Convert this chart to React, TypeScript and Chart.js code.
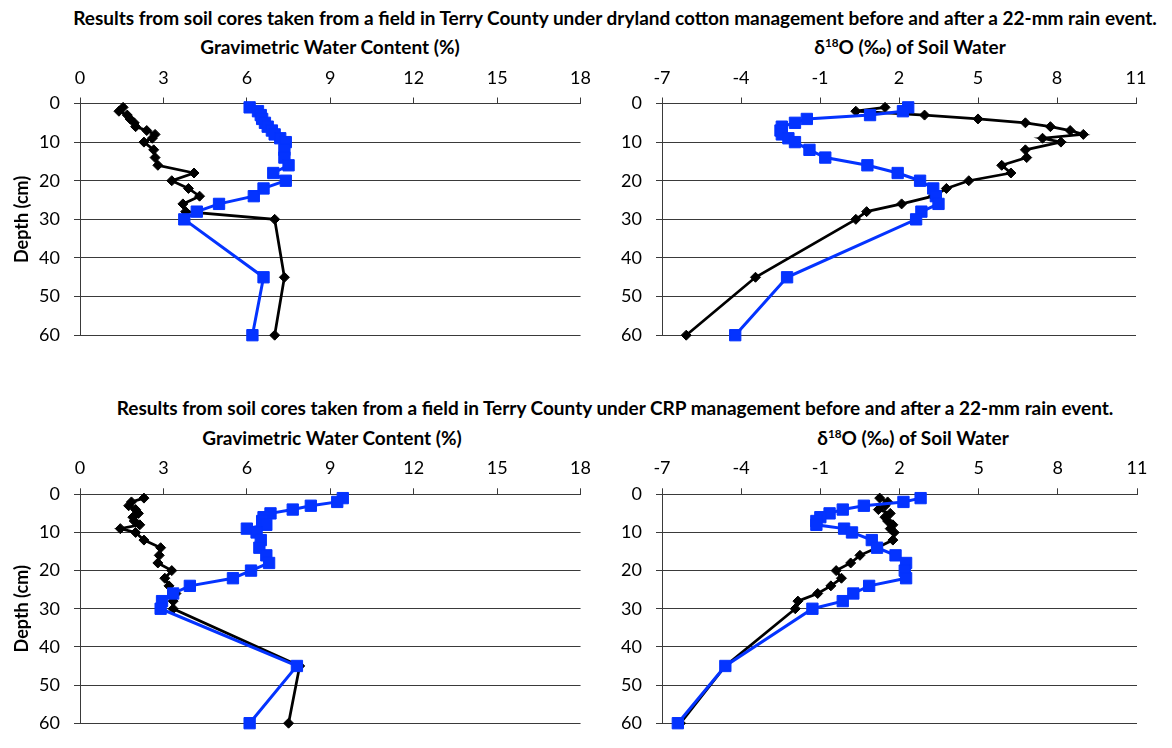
import React, { useEffect, useRef } from "react";
import { Chart, registerables } from "chart.js";

Chart.register(...registerables);

// ---------- data ----------
const depths = [1, 2, 3, 4, 5, 6, 7, 8, 9, 10, 12, 14, 16, 18, 20, 22, 24, 26, 28, 30, 45, 60];

// Dryland cotton – gravimetric water content (%)
const cottonGwcBefore = [1.55, 1.4, 1.7, 1.8, 1.95, 2.0, 2.4, 2.7, 2.6, 2.3, 2.65, 2.7, 2.8, 4.1, 3.3, 3.9, 4.3, 3.7, 3.8, 7.0, 7.35, 7.0];
const cottonGwcAfter = [6.1, 6.4, 6.5, 6.55, 6.65, 6.75, 6.9, 7.0, 7.2, 7.4, 7.35, 7.35, 7.5, 6.95, 7.4, 6.6, 6.25, 5.0, 4.2, 3.75, 6.6, 6.2];
// Dryland cotton – d18O of soil water (‰)
const cottonD18OBefore = [1.47, 0.36, 2.97, 5.0, 6.8, 7.75, 8.5, 9.0, 7.45, 8.15, 6.8, 6.85, 5.9, 6.25, 4.65, 3.8, 3.3, 2.1, 0.77, 0.36, -3.45, -6.08];
const cottonD18OAfter = [2.35, 2.15, 0.9, -1.5, -1.95, -2.45, -2.5, -2.45, -2.2, -1.95, -1.4, -0.8, 0.8, 1.95, 2.8, 3.3, 3.4, 3.5, 2.85, 2.65, -2.25, -4.22];

// CRP – gravimetric water content (%)
const crpGwcBefore = [2.3, 1.85, 1.75, 2.0, 2.1, 1.9, 1.95, 2.15, 1.45, 2.0, 2.3, 2.9, 2.85, 2.8, 3.3, 3.05, 3.2, 3.45, 3.35, 3.35, 7.9, 7.5];
const crpGwcAfter = [9.45, 9.25, 8.3, 7.65, 6.85, 6.6, 6.55, 6.7, 6.0, 6.35, 6.5, 6.45, 6.7, 6.8, 6.15, 5.5, 3.95, 3.35, 2.95, 2.9, 7.8, 6.1];
// CRP – d18O of soil water (‰)
const crpD18OBefore = [1.25, 1.55, 1.45, 1.2, 1.65, 1.45, 1.55, 1.75, 1.65, 1.8, 1.75, 1.15, 0.5, 0.15, -0.4, -0.2, -0.6, -1.1, -1.85, -1.95, -4.6, -6.3];
const crpD18OAfter = [2.8, 2.15, 0.65, -0.15, -0.65, -1.0, -1.15, -1.15, -0.1, 0.2, 0.95, 1.15, 1.85, 2.25, 2.2, 2.25, 0.85, 0.25, -0.15, -1.3, -4.6, -6.4];

const gwcTicks = [0, 3, 6, 9, 12, 15, 18];
const d18oTicks = [-7, -4, -1, 2, 5, 8, 11];
const depthTicks = [0, 10, 20, 30, 40, 50, 60];

const topTitle =
  "Results from soil cores taken from a field in Terry County under dryland cotton management before and after a 22-mm rain event.";
const bottomTitle =
  "Results from soil cores taken from a field in Terry County under CRP management before and after a 22-mm rain event.";
const gwcTitle = "Gravimetric Water Content (%)";
const depthTitle = "Depth (cm)";

// ---------- styles ----------
const FONT = "Lato, 'Open Sans', sans-serif";
const BLUE = "#0433ff";
const BLACK = "#000000";
const GRID = "#3a3a3a";
const TITLE_SIZE = 19;
const TICK_SIZE = 18;

type Box = { left: number; top: number; width: number; height: number };
type Area = { left: number; top: number; right: number; bottom: number };

function Panel(props: {
  box: Box;
  area: Area;
  xTicks: number[];
  before: number[];
  after: number[];
  showDepth: boolean;
}) {
  const ref = useRef<HTMLCanvasElement>(null);
  useEffect(() => {
    const { box, area, xTicks, before, after, showDepth } = props;
    const chart = new Chart(ref.current as HTMLCanvasElement, {
      type: "scatter",
      data: {
        datasets: [
          {
            label: "After rain",
            data: depths.map((d, i) => ({ x: after[i], y: d })),
            showLine: true,
            borderColor: BLUE,
            backgroundColor: BLUE,
            borderWidth: 3,
            pointStyle: "rect",
            pointRadius: 8,
            pointBorderWidth: 1,
            pointBorderColor: BLUE,
            pointBackgroundColor: BLUE,
            clip: false,
          },
          {
            label: "Before rain",
            data: depths.map((d, i) => ({ x: before[i], y: d })),
            showLine: true,
            borderColor: BLACK,
            backgroundColor: BLACK,
            borderWidth: 2.75,
            pointStyle: "rectRot",
            pointRadius: 5,
            pointBorderWidth: 1,
            pointBorderColor: BLACK,
            pointBackgroundColor: BLACK,
            clip: false,
          },
        ],
      } as any,
      options: {
        responsive: false,
        animation: false,
        events: [],
        layout: {
          padding: { left: 0, top: 0, right: box.width - area.right, bottom: box.height - area.bottom },
        },
        plugins: { legend: { display: false }, tooltip: { enabled: false }, title: { display: false } },
        scales: {
          x: {
            type: "linear",
            position: "top",
            min: xTicks[0],
            max: xTicks[xTicks.length - 1],
            afterBuildTicks: (s: any) => {
              s.ticks = xTicks.map((v) => ({ value: v }));
            },
            afterFit: (s: any) => {
              s.height = area.top;
            },
            grid: { drawOnChartArea: false, drawTicks: true, tickLength: 6, color: GRID, lineWidth: 1 },
            border: { display: true, color: GRID, width: 1 },
            ticks: {
              padding: 9,
              color: "#000",
              font: { family: FONT, size: TICK_SIZE },
              maxRotation: 0,
              autoSkip: false,
              callback: (v: any) => String(v),
            },
          },
          y: {
            type: "linear",
            reverse: true,
            min: 0,
            max: 60,
            afterBuildTicks: (s: any) => {
              s.ticks = depthTicks.map((v) => ({ value: v }));
            },
            afterFit: (s: any) => {
              s.width = area.left;
            },
            grid: { drawOnChartArea: true, drawTicks: true, tickLength: 6, color: GRID, lineWidth: 1 },
            border: { display: true, color: GRID, width: 1 },
            ticks: {
              padding: 14,
              color: "#000",
              font: { family: FONT, size: TICK_SIZE },
              autoSkip: false,
              callback: (v: any) => String(v),
            },
            title: {
              display: showDepth,
              text: depthTitle,
              color: "#000",
              font: { family: FONT, size: TICK_SIZE, weight: "bold" },
              padding: { top: 11, bottom: 0 },
            },
          },
        },
      } as any,
    });
    return () => chart.destroy();
  }, []);
  const { box } = props;
  return (
    <canvas
      ref={ref}
      width={box.width}
      height={box.height}
      style={{ position: "absolute", left: box.left, top: box.top, width: box.width, height: box.height }}
    />
  );
}

function Label(props: { text: React.ReactNode; cx: number; cy: number; size: number }) {
  return (
    <div
      style={{
        position: "absolute",
        left: props.cx,
        top: props.cy - 13,
        height: 26,
        lineHeight: "26px",
        transform: "translateX(-50%)",
        whiteSpace: "nowrap",
        fontFamily: FONT,
        fontWeight: "bold",
        fontSize: props.size,
        color: "#000",
      }}
    >
      {props.text}
    </div>
  );
}

const d18oTitle = (
  <span>
    δ<sup style={{ fontSize: "0.62em", verticalAlign: "0.6em", lineHeight: 0 }}>18</sup>O (‰) of Soil Water
  </span>
);

export default function App() {
  return (
    <div
      style={{
        position: "absolute",
        left: 0,
        top: 0,
        width: 1172,
        height: 748,
        overflow: "hidden",
        background: "#fff",
      }}
    >
      <Label text={topTitle} cx={615} cy={18} size={TITLE_SIZE} />
      <Label text={gwcTitle} cx={330} cy={47} size={TITLE_SIZE} />
      <Label text={d18oTitle} cx={910} cy={47} size={TITLE_SIZE} />
      <Label text={bottomTitle} cx={615} cy={408} size={TITLE_SIZE} />
      <Label text={gwcTitle} cx={332} cy={438} size={TITLE_SIZE} />
      <Label text={d18oTitle} cx={913} cy={438} size={TITLE_SIZE} />

      <Panel
        box={{ left: 0, top: 60, width: 600, height: 300 }}
        area={{ left: 80, top: 43.5, right: 582, bottom: 284.5 }}
        xTicks={gwcTicks}
        before={cottonGwcBefore}
        after={cottonGwcAfter}
        showDepth={true}
      />
      <Panel
        box={{ left: 600, top: 60, width: 572, height: 300 }}
        area={{ left: 62, top: 43.5, right: 536, bottom: 284.5 }}
        xTicks={d18oTicks}
        before={cottonD18OBefore}
        after={cottonD18OAfter}
        showDepth={false}
      />
      <Panel
        box={{ left: 0, top: 450, width: 600, height: 298 }}
        area={{ left: 80, top: 44.3, right: 583, bottom: 287 }}
        xTicks={gwcTicks}
        before={crpGwcBefore}
        after={crpGwcAfter}
        showDepth={true}
      />
      <Panel
        box={{ left: 600, top: 450, width: 572, height: 298 }}
        area={{ left: 62, top: 44.3, right: 537, bottom: 287 }}
        xTicks={d18oTicks}
        before={crpD18OBefore}
        after={crpD18OAfter}
        showDepth={false}
      />
    </div>
  );
}
